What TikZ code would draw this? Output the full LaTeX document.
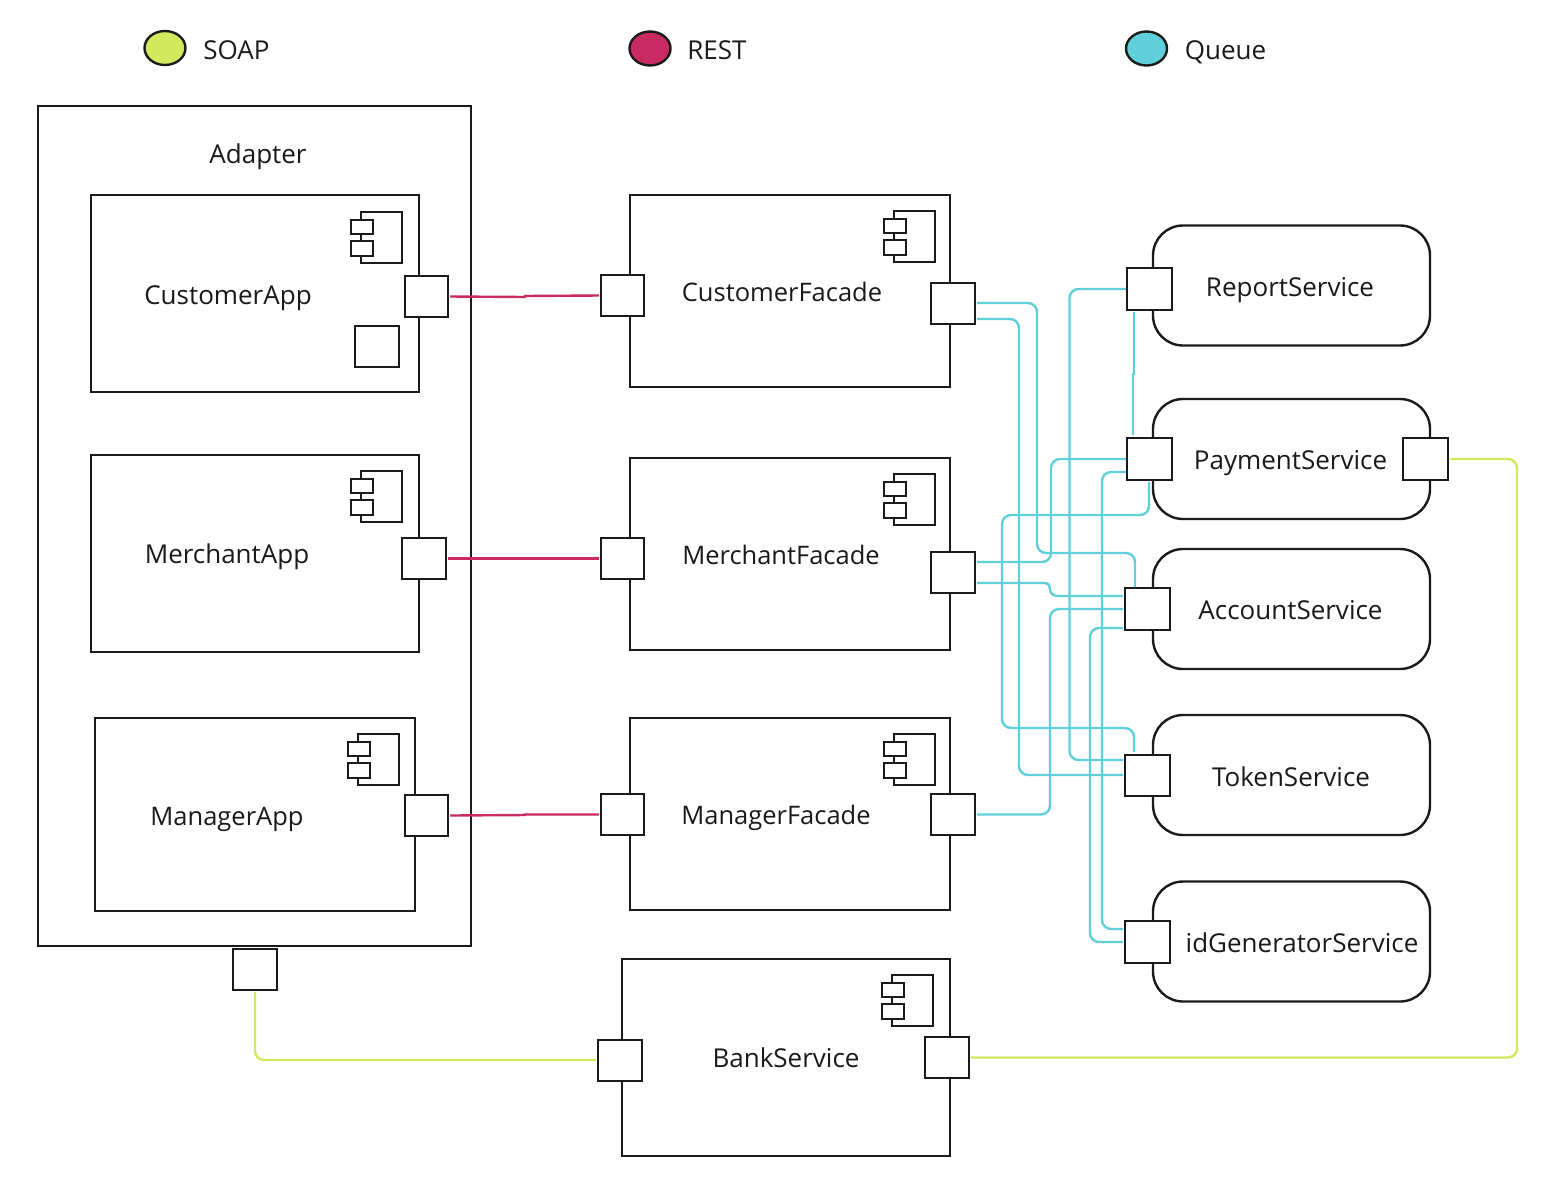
\documentclass[tikz,border=0pt]{standalone}
\usepackage{fontspec}
\setmainfont{Open Sans}
\usetikzlibrary{shapes.geometric}
\definecolor{soapc}{HTML}{D2E95F}
\definecolor{restc}{HTML}{C92A62}
\definecolor{queuec}{HTML}{5FCFD9}
\definecolor{inkc}{HTML}{1A1A1A}
\tikzset{
  box/.style={draw=inkc,line width=2.4pt,fill=white,inner sep=0pt,outer sep=0pt},
  compbox/.style={box,minimum width=320,minimum height=192},
  appbox/.style={box,minimum width=328,minimum height=197},
  svcbox/.style={box,rounded corners=30pt,minimum width=277,minimum height=120},
  port/.style={box,minimum width=44,minimum height=41},
  nport/.style={box,minimum width=43,minimum height=41},
  sport/.style={box,minimum width=45,minimum height=42},
  tport/.style={box,minimum width=45,minimum height=41},
  lbl/.style={anchor=base,inner sep=0pt,text=inkc,font=\fontsize{26}{30}\selectfont},
  lblnarrow/.style={lbl,font=\fontsize{25.5}{30}\selectfont},
  legend/.style={ellipse,draw=inkc,line width=2.4pt,minimum width=41,minimum height=34,inner sep=0pt},
  queue/.style={draw=queuec,line width=2.4pt,rounded corners=9pt},
  rest/.style={draw=restc,line width=2.4pt},
  soap/.style={draw=soapc,line width=2.4pt,rounded corners=9pt},
  iconline/.style={draw=inkc,line width=2.4pt,fill=white},
  compicon/.pic={
    \draw[iconline] (10,0) rectangle (51,51);
    \draw[iconline] (0,8) rectangle (22,22);
    \draw[iconline] (0,29) rectangle (22,44);
  }
}
\begin{document}
\begin{tikzpicture}[x=1pt,y=-1pt]
\useasboundingbox (0,0) rectangle (1562,1178);
% legend
\node[legend,fill=soapc] (lgSoap) at (165,48) {};
\node[lbl] (lgSoapT) at (236.5,59) {SOAP};
\node[legend,fill=restc] (lgRest) at (650,48.5) {};
\node[lbl] (lgRestT) at (717,59) {REST};
\node[legend,fill=queuec] (lgQueue) at (1146.5,48.5) {};
\node[lbl] (lgQueueT) at (1225.5,59) {Queue};
% adapter
\node[box,minimum width=433,minimum height=840] (adapter) at (254.5,526) {};
\node[lbl] (adapterT) at (258,163) {Adapter};
\node[appbox] (capp) at (255,293.5) {};
\node[appbox] (mapp) at (255,553.5) {};
\node[box,minimum width=320,minimum height=193] (gapp) at (255,814.5) {};
\node[lbl] (cappT) at (228,304) {CustomerApp};
\node[lbl] (mappT) at (227,563) {MerchantApp};
\node[lblnarrow] (gappT) at (227,825) {ManagerApp};
\pic at (351,212) {compicon};
\pic at (351,471) {compicon};
\pic at (348,734) {compicon};
\node[nport] (cappP) at (426.5,296.5) {};
\node[port] (mappP) at (424,558.5) {};
\node[nport] (gappP) at (426.5,815.5) {};
\node[port] (cappI) at (377,346.5) {};
\node[port] (adapterP) at (255,969.5) {};
% facades
\node[compbox] (cf) at (790,291) {};
\node[compbox] (mf) at (790,554) {};
\node[compbox] (gf) at (790,814) {};
\node[appbox] (bank) at (786,1057.5) {};
\node[lblnarrow] (cfT) at (782,301) {CustomerFacade};
\node[lblnarrow] (mfT) at (781,564) {MerchantFacade};
\node[lblnarrow] (gfT) at (776,824) {ManagerFacade};
\node[lbl] (bankT) at (786,1067) {BankService};
\pic at (884,211) {compicon};
\pic at (884,474) {compicon};
\pic at (884,734) {compicon};
\pic at (882,975) {compicon};
\node[nport] (cfL) at (622.5,295.5) {};
\node[port] (cfR) at (953,303.5) {};
\node[nport] (mfL) at (622.5,558.5) {};
\node[port] (mfR) at (953,572.5) {};
\node[nport] (gfL) at (622.5,814.5) {};
\node[port] (gfR) at (953,814.5) {};
\node[port] (bankL) at (620,1060.5) {};
\node[port] (bankR) at (947,1057.5) {};
% services
\node[svcbox] (rep) at (1291.5,285.5) {};
\node[svcbox] (pay) at (1291.5,459) {};
\node[svcbox] (acc) at (1291.5,609) {};
\node[svcbox] (tok) at (1291.5,775) {};
\node[svcbox] (idg) at (1291.5,941.5) {};
\node[lbl] (repT) at (1290,296) {ReportService};
\node[lbl] (payT) at (1290.5,469) {PaymentService};
\node[lbl] (accT) at (1290.5,619) {AccountService};
\node[lbl] (tokT) at (1291,786) {TokenService};
\node[lbl] (idgT) at (1302,952) {idGeneratorService};
\node[sport] (repP) at (1149.5,289) {};
\node[sport] (payP) at (1149.5,459) {};
\node[sport] (payR) at (1425.5,459) {};
\node[sport] (accP) at (1147.5,609) {};
\node[tport] (tokP) at (1147.5,775.5) {};
\node[sport] (idgP) at (1147.5,942) {};
% REST
\draw[rest] ([xshift=2pt]cappP.east) -- (525,297) -- (525,296) -- ([xshift=-2pt]cfL.west);
\draw[rest] ([xshift=2pt]mappP.east) -- ([xshift=-2pt]mfL.west);
\draw[rest] ([xshift=2pt]gappP.east) -- (525,815) -- (525,814.5) -- ([xshift=-2pt]gfL.west);
% SOAP
\draw[soap] ([yshift=-2pt]adapterP.south) -- (255,1060) -- (596,1060);
\draw[soap] ([xshift=2pt]bankR.east) -- (1517,1057.5) -- (1517,459) -- ([xshift=2pt]payR.east);
% Queue
\draw[queue] (977,303) -- (1037,303) -- (1037,553) -- (1135,553) -- (1135,587);
\draw[queue] (977,319) -- (1019,319) -- (1019,775) -- ([xshift=-2pt,yshift=0.5pt]tokP.west);
\draw[queue] ([xshift=-1pt]repP.west) -- (1069.5,289) -- (1069.5,760) -- (1123,760);
\draw[line width=2.4pt,draw=queuec] (1134,312) -- (1134,374) -- (1133,374) -- (1133,435);
\draw[queue] (977,562) -- (1051,562) -- (1051,459) -- ([xshift=-1pt]payP.west);
\draw[queue] (1126,472) -- (1102,472) -- (1102,929) -- (1123,929);
\draw[queue] (1149,482) -- (1149,515) -- (1002,515) -- (1002,728) -- (1134,728) -- (1134,752);
\draw[queue,rounded corners=0pt] (977,583) -- (1044,583) .. controls (1049,583) and (1050,586) .. (1050,589) .. controls (1050,593) and (1053,596) .. (1058,596) -- ([xshift=-2pt,yshift=13pt]accP.west);
\draw[queue] ([xshift=2pt]gfR.east) -- (1050,814.5) -- (1050,609) -- ([xshift=-2pt]accP.west);
\draw[queue] (1123,628) -- (1090,628) -- (1090,942) -- ([xshift=-2pt]idgP.west);
\end{tikzpicture}
\end{document}
